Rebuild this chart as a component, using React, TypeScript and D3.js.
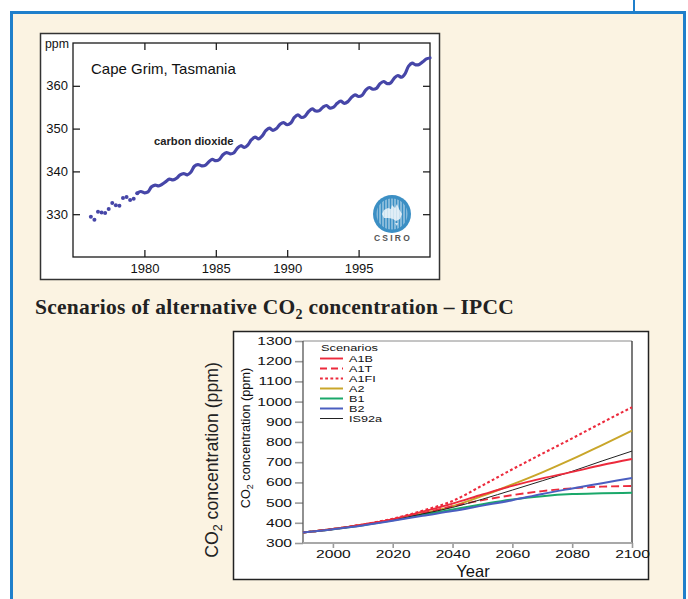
import React, { useEffect, useRef } from "react";
import * as d3 from "d3";

// ---- Cape Grim record (quarterly samples from 1976.25) ----
const capeGrimStart = 1976.25;
const capeGrimStep = 0.25;
const capeGrimPpm = [
  329.4, 328.7, 330.6,
  330.4, 330.3, 331.2, 332.6,
  332.1, 332.0, 333.8, 334.0,
  333.3, 333.6, 334.9, 335.3,
  335.0, 335.2, 336.4, 336.8,
  336.6, 337.0, 337.6, 338.2,
  338.0, 338.4, 339.2, 339.5,
  339.2, 339.8, 341.2, 341.6,
  341.3, 341.4, 342.2, 342.8,
  342.5, 342.8, 343.9, 344.4,
  344.1, 344.3, 345.4, 346.0,
  345.6, 346.2, 347.4, 348.0,
  347.6, 348.3, 349.5, 350.1,
  349.6, 350.0, 351.0, 351.4,
  350.9, 351.3, 352.6, 353.2,
  352.6, 352.9, 354.0, 354.6,
  354.1, 354.2, 355.0, 355.4,
  354.8, 355.0, 355.9, 356.4,
  355.9, 356.3, 357.3, 357.9,
  357.5, 357.8, 359.0, 359.6,
  359.2, 359.4, 360.5, 361.0,
  360.5, 360.7, 361.8, 362.4,
  362.0, 362.8, 364.6, 365.3,
  364.9, 365.0, 365.6, 366.3,
  366.5,
];
const capeGrimYearTicks = [1980, 1985, 1990, 1995];
const capeGrimPpmTicks = [330, 340, 350, 360];

// ---- IPCC scenarios ----
const scenarioYears = [1990, 2000, 2010, 2020, 2030, 2040, 2050, 2060, 2070, 2080, 2090, 2100];
const scenarioNames = ["A1B", "A1T", "A1FI", "A2", "B1", "B2", "IS92a"];
const a1b = [352, 369, 391, 418, 455, 495, 540, 583, 620, 652, 686, 716];
const a1t = [352, 369, 391, 416, 448, 482, 512, 537, 557, 571, 579, 582];
const a1fi = [352, 369, 392, 420, 460, 508, 585, 665, 742, 818, 896, 972];
const a2 = [352, 369, 390, 415, 446, 482, 533, 590, 650, 715, 785, 856];
const b1 = [352, 368, 388, 412, 440, 466, 492, 516, 532, 542, 546, 549];
const b2 = [352, 368, 387, 410, 435, 458, 485, 512, 543, 570, 596, 622];
const is92a = [352, 369, 390, 414, 444, 476, 517, 562, 608, 655, 706, 755];
const scenarioYearTicks = [2000, 2020, 2040, 2060, 2080, 2100];
const scenarioPpmTicks = [300, 400, 500, 600, 700, 800, 900, 1000, 1100, 1200, 1300];

// line styles per scenario
const scenarioStyle: Record<string, { color: string; dash: string; width: number }> = {
  A1B: { color: "#ec2a3c", dash: "", width: 1.9 },
  A1T: { color: "#ec2a3c", dash: "8,4", width: 1.9 },
  A1FI: { color: "#ec2a3c", dash: "2.8,2.4", width: 2.1 },
  A2: { color: "#c9a62a", dash: "", width: 2 },
  B1: { color: "#1aa86a", dash: "", width: 2 },
  B2: { color: "#4a5ec0", dash: "", width: 2 },
  IS92a: { color: "#222", dash: "", width: 1 },
};
const drawOrder = ["A2", "A1FI", "A1T", "B1", "IS92a", "A1B", "B2"];

const SANS = "'Liberation Sans', Arial, sans-serif";
const STRETCH = 1.42; // the lower figure is printed horizontally stretched

export default function App() {
  const ref = useRef<SVGSVGElement>(null);

  useEffect(() => {
    const svg = d3.select(ref.current);
    svg.selectAll("*").remove();

    const seriesByName: Record<string, number[]> = {
      A1B: a1b, A1T: a1t, A1FI: a1fi, A2: a2, B1: b1, B2: b2, IS92a: is92a,
    };

    // page frame
    svg.append("line").attr("x1", 634).attr("x2", 634).attr("y1", 0).attr("y2", 12)
      .attr("stroke", "#1f7fcb").attr("stroke-width", 2);
    svg.append("rect").attr("x", 11.5).attr("y", 12.5).attr("width", 673).attr("height", 620)
      .attr("fill", "#fbf3e2").attr("stroke", "#1f7fcb").attr("stroke-width", 3);

    // ===== top chart: Cape Grim =====
    svg.append("rect").attr("x", 40.5).attr("y", 33.5).attr("width", 399).attr("height", 246)
      .attr("fill", "#fff").attr("stroke", "#333").attr("stroke-width", 1.5);

    const x = d3.scaleLinear().domain([1975, 2000]).range([73, 430]);
    const y = d3.scaleLinear().domain([320, 370]).range([257, 43]);

    const styleAxis = (g: any, size: number) => {
      g.select(".domain").remove();
      g.selectAll("line").attr("stroke", "#111").attr("stroke-width", 1.2);
      g.selectAll("text").attr("fill", "#111").style("font-family", SANS).style("font-size", size + "px");
    };

    svg.append("g").attr("transform", "translate(73,0)")
      .call(d3.axisLeft(y).tickValues(capeGrimPpmTicks).tickSize(-7).tickPadding(5))
      .call((g: any) => styleAxis(g, 13));
    svg.append("g").attr("transform", "translate(430,0)")
      .call(d3.axisRight(y).tickValues(capeGrimPpmTicks).tickSize(-7).tickFormat(() => ""))
      .call((g: any) => styleAxis(g, 12));
    svg.append("g").attr("transform", "translate(0,257)")
      .call(d3.axisBottom(x).tickValues(capeGrimYearTicks).tickSize(-7).tickPadding(7).tickFormat(d3.format("d")))
      .call((g: any) => styleAxis(g, 13));
    svg.append("g").attr("transform", "translate(0,43)")
      .call(d3.axisTop(x).tickValues(capeGrimYearTicks).tickSize(-7).tickFormat(() => ""))
      .call((g: any) => styleAxis(g, 12));

    svg.append("rect").attr("x", 73).attr("y", 43).attr("width", 357).attr("height", 214)
      .attr("fill", "none").attr("stroke", "#1a1a1a").attr("stroke-width", 1.3);

    svg.append("text").attr("x", 45).attr("y", 48).text("ppm")
      .style("font-family", SANS).style("font-size", "12.3px").attr("fill", "#111");
    svg.append("text").attr("x", 91).attr("y", 74).text("Cape Grim, Tasmania")
      .style("font-family", SANS).style("font-size", "15px").attr("fill", "#111");
    svg.append("text").attr("x", 154).attr("y", 145).text("carbon dioxide")
      .style("font-family", SANS).style("font-size", "11.2px").style("font-weight", "bold").attr("fill", "#222");

    const co2 = capeGrimPpm.map((v, i) => ({ t: capeGrimStart + i * capeGrimStep, v }));
    const co2Color = "#4646a8";
    // sparse early samples drawn as dots
    svg.append("g").selectAll("circle").data(co2.filter((d) => d.t < 1979.6)).enter()
      .append("circle").attr("cx", (d) => x(d.t)).attr("cy", (d) => y(d.v)).attr("r", 2)
      .attr("fill", co2Color);
    const co2Line = d3.line<{ t: number; v: number }>()
      .x((d) => x(d.t)).y((d) => y(d.v)).curve(d3.curveCatmullRom);
    svg.append("path").datum(co2.filter((d) => d.t >= 1979.5)).attr("d", co2Line)
      .attr("fill", "none").attr("stroke", co2Color).attr("stroke-width", 3.2)
      .attr("stroke-linejoin", "round").attr("stroke-linecap", "round");

    // CSIRO logo
    const logo = svg.append("g").attr("transform", "translate(392,214)");
    svg.append("defs").append("clipPath").attr("id", "csiroClip")
      .append("circle").attr("r", 15.5);
    logo.append("circle").attr("r", 19).attr("fill", "#3b8fc4");
    const inner = logo.append("g").attr("clip-path", "url(#csiroClip)");
    inner.append("path")
      .attr("d", "M-10,0 L-8,-4 L-4,-6 L-1,-5 L0,-9 L3,-6 L5,-10 L7,-5 L10,0 L8,5 L4,7 L1,5 L-3,4 L-8,4 Z M3,9 L6,9 L5,12 Z")
      .attr("fill", "#fff").attr("opacity", 0.75);
    inner.selectAll("line").data(d3.range(-15, 16, 3)).enter().append("line")
      .attr("x1", (d) => d).attr("x2", (d) => d).attr("y1", -16).attr("y2", 16)
      .attr("stroke", "#fff").attr("stroke-width", 0.9).attr("opacity", 0.85);
    svg.append("text").attr("x", 393).attr("y", 241).attr("text-anchor", "middle").text("CSIRO")
      .style("font-family", SANS).style("font-size", "8.5px").style("font-weight", "bold")
      .style("letter-spacing", "2.2px").attr("fill", "#555");

    // ===== title =====
    const title = svg.append("text").attr("x", 35).attr("y", 314)
      .style("font-family", "'Liberation Serif', 'Times New Roman', serif").style("font-weight", "bold")
      .style("font-size", "21.5px").style("letter-spacing", "0.25px").attr("fill", "#222");
    title.append("tspan").text("Scenarios of alternative CO");
    title.append("tspan").attr("dy", 5).style("font-size", "14px").text("2");
    title.append("tspan").attr("dy", -5).text(" concentration \u2013 IPCC");

    // ===== bottom chart: scenarios =====
    svg.append("rect").attr("x", 233.5).attr("y", 331.5).attr("width", 415).attr("height", 248)
      .attr("fill", "#fff").attr("stroke", "#222").attr("stroke-width", 1.5);

    const x2 = d3.scaleLinear().domain([1990, 2100]).range([303, 632]);
    const y2 = d3.scaleLinear().domain([300, 1300]).range([543, 341]);

    const styleAxis2 = (g: any) => {
      g.select(".domain").remove();
      g.selectAll("line").attr("stroke", "#9a9a9a").attr("stroke-width", 1.6);
      g.selectAll("text").attr("fill", "#111").style("font-family", SANS).style("font-size", "11px");
    };
    svg.append("g").attr("transform", "translate(303,0)")
      .call(d3.axisLeft(y2).tickValues(scenarioPpmTicks).tickSize(8).tickPadding(3).tickFormat(d3.format("d")))
      .call(styleAxis2)
      .call((g: any) => g.selectAll("text").attr("x", -11 / STRETCH).attr("transform", `scale(${STRETCH},1)`));
    svg.append("g").attr("transform", "translate(0,543)")
      .call(d3.axisBottom(x2).tickValues(scenarioYearTicks).tickSize(5).tickPadding(2).tickFormat(d3.format("d")))
      .call(styleAxis2)
      .call((g: any) => g.selectAll("text").attr("transform", `scale(${STRETCH},1)`));

    // plot frame: grey top, dark right/left, light grey base
    svg.append("line").attr("x1", 303).attr("x2", 632).attr("y1", 341).attr("y2", 341)
      .attr("stroke", "#8a8a8a").attr("stroke-width", 1);
    svg.append("line").attr("x1", 632).attr("x2", 632).attr("y1", 341).attr("y2", 543)
      .attr("stroke", "#333").attr("stroke-width", 1.3);
    svg.append("line").attr("x1", 303).attr("x2", 303).attr("y1", 341).attr("y2", 543)
      .attr("stroke", "#555").attr("stroke-width", 1.3);
    svg.append("line").attr("x1", 303).attr("x2", 632).attr("y1", 543).attr("y2", 543)
      .attr("stroke", "#a8a8a8").attr("stroke-width", 2);

    const scenarioLine = d3.line<number>()
      .x((d, i) => x2(scenarioYears[i])).y((d) => y2(d)).curve(d3.curveMonotoneX);
    drawOrder.forEach((name) => {
      const s = scenarioStyle[name];
      svg.append("path").datum(seriesByName[name]).attr("d", scenarioLine)
        .attr("fill", "none").attr("stroke", s.color).attr("stroke-width", s.width)
        .attr("stroke-dasharray", s.dash || null);
    });

    // legend
    svg.append("text").attr("transform", `translate(321,351) scale(1.35,1)`).text("Scenarios")
      .style("font-family", SANS).style("font-size", "9.5px").attr("fill", "#111");
    scenarioNames.forEach((name, i) => {
      const s = scenarioStyle[name];
      const ly = 358.5 + i * 10;
      svg.append("line").attr("x1", 320).attr("x2", 343).attr("y1", ly).attr("y2", ly)
        .attr("stroke", s.color).attr("stroke-width", s.width)
        .attr("stroke-dasharray", name === "A1T" ? "7,4" : s.dash || null);
      svg.append("text").attr("transform", `translate(349,${ly + 3.6}) scale(1.33,1)`).text(name)
        .style("font-family", SANS).style("font-size", "9.5px").attr("fill", "#111");
    });

    // axis titles
    svg.append("text").attr("x", 473).attr("y", 577).attr("text-anchor", "middle").text("Year")
      .style("font-family", SANS).style("font-size", "16.5px").attr("fill", "#111");

    const inner2 = svg.append("text").attr("transform", "translate(250,438) rotate(-90)")
      .attr("text-anchor", "middle").style("font-family", SANS).style("font-size", "12.7px").attr("fill", "#111");
    inner2.append("tspan").text("CO");
    inner2.append("tspan").attr("dy", 3).style("font-size", "9px").text("2");
    inner2.append("tspan").attr("dy", -3).text(" concentration (ppm)");

    const outer = svg.append("text").attr("transform", "translate(218,460) rotate(-90)")
      .attr("text-anchor", "middle").style("font-family", SANS).style("font-size", "17.7px").attr("fill", "#222");
    outer.append("tspan").text("CO");
    outer.append("tspan").attr("dy", 4).style("font-size", "12.5px").text("2");
    outer.append("tspan").attr("dy", -4).text(" concentration (ppm)");
  }, []);

  return (
    <svg ref={ref} width={688} height={599}
      style={{ position: "absolute", left: 0, top: 0, background: "#fff" }} />
  );
}
